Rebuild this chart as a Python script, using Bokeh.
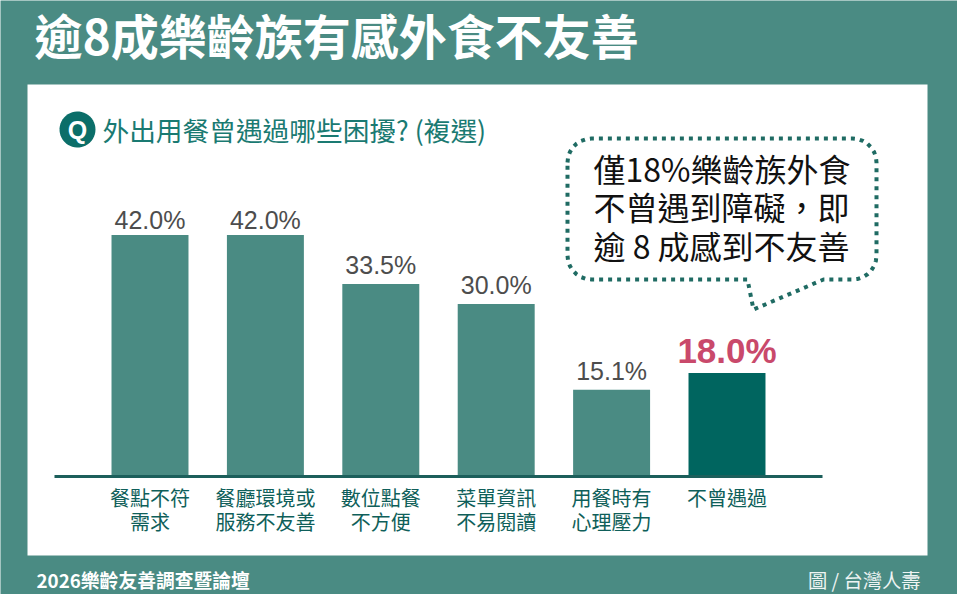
from bokeh.core.properties import value
from bokeh.embed import file_html
from bokeh.models import BoxAnnotation, ColumnDataSource, FixedTicker, Label, PolyAnnotation, Range1d
from bokeh.plotting import figure
from bokeh.resources import INLINE
import numpy as np

categories = ["餐點不符\n需求", "餐廳環境或\n服務不友善", "數位點餐\n不方便", "菜單資訊\n不易閱讀", "用餐時有\n心理壓力", "不曾遇過"]
shares = [42.0, 42.0, 33.5, 30.0, 15.1, 18.0]
highlight = ["不曾遇過"]

title = "逾8成樂齡族有感外食不友善"
question = "外出用餐曾遇過哪些困擾? (複選)"
callout = ["僅18%樂齡族外食", "不曾遇到障礙，即", "逾 8 成感到不友善"]
footer_left = "2026樂齡友善調查暨論壇"
footer_right = "圖 / 台灣人壽"

TEAL = "#4a8b83"
DARK = "#00655f"
CJK = "Noto Sans CJK TC"
W, H = 957, 594

# one bar step is 115.4px, one percent is 5.75px, baseline at y=476, first bar at x=149.5
x_range = Range1d(-149.5 / 115.4, (W - 149.5) / 115.4)
y_range = Range1d(-(H - 476) / 5.75, 476 / 5.75)

p = figure(x_range=x_range, y_range=y_range, width=W, height=H,
           output_backend="svg", toolbar_location=None, y_axis_location=None,
           min_border=0, border_fill_color=TEAL, background_fill_color=TEAL, outline_line_color=None)
p.grid.visible = False


def sy(y):
    return H - y


# white panel behind the chart
p.add_layout(BoxAnnotation(left=27, right=927, top=sy(84), bottom=sy(555),
                           left_units="screen", right_units="screen", top_units="screen", bottom_units="screen",
                           fill_color="white", fill_alpha=1, line_color=None, level="underlay"))

positions = list(range(len(categories)))
normal = [i for i in positions if categories[i] not in highlight]
special = [i for i in positions if categories[i] in highlight]
src = ColumnDataSource(data={"x": normal, "v": [shares[i] for i in normal],
                             "t": [f"{shares[i]:.1f}%" for i in normal],
                             "off": [-1, -1, -5, -5, -5]})
src2 = ColumnDataSource(data={"x": special, "v": [shares[i] for i in special],
                              "t": [f"{shares[i]:.1f}%" for i in special]})

p.vbar(x="x", top="v", width=0.667, source=src, fill_color=TEAL, line_color=None)
p.vbar(x="x", top="v", width=0.667, source=src2, fill_color=DARK, line_color=None)
p.text(x="x", y="v", text="t", source=src, text_align="center", text_baseline="bottom", y_offset="off",
       text_font=value("Liberation Sans"), text_font_size="25px", text_color="#4d4d4d")
p.text(x="x", y="v", text="t", source=src2, text_align="center", text_baseline="bottom", y_offset=-3,
       text_font=value("Liberation Sans"), text_font_size="35px", text_font_style="bold", text_color="#c9496b")

ax = p.xaxis[0]
ax.fixed_location = 0
ax.bounds = (-0.8275, 5.8275)
ax.ticker = FixedTicker(ticks=positions)
ax.major_label_overrides = dict(zip(positions, categories))
ax.axis_line_color = "#1c5f5b"
ax.axis_line_width = 3
ax.major_tick_line_color = None
ax.minor_tick_line_color = None
ax.major_label_standoff = 0
ax.major_label_text_font = CJK
ax.major_label_text_font_size = "20px"
ax.major_label_text_color = "#0f5f5a"
ax.major_label_text_line_height = 0.85


def arc(cx, cy, r, start, sweep, n=8):
    a = np.linspace(start, start + sweep, n)
    return list(cx + r * np.cos(a)), list(cy + r * np.sin(a))


def add_poly(xs, ys, **kw):
    p.add_layout(PolyAnnotation(xs=xs, ys=[sy(v) for v in ys], xs_units="screen", ys_units="screen",
                                fill_alpha=1, **kw))


# speech bubble: rounded box with a tail
bx0, bx1, by0, by1, r = 567, 876, 138, 279, 24
bubble_x, bubble_y = [], []
for cx, cy, start in [(bx0 + r, by0 + r, np.pi), (bx1 - r, by0 + r, 1.5 * np.pi),
                      (bx1 - r, by1 - r, 0), (bx0 + r, by1 - r, 0.5 * np.pi)]:
    if start == 0.5 * np.pi:
        bubble_x += [823, 753, 747]
        bubble_y += [by1, 309, by1]
    ax_, ay_ = arc(cx, cy, r, start, np.pi / 2)
    bubble_x += ax_
    bubble_y += ay_
add_poly(bubble_x, bubble_y, fill_color="white", line_color="#1f6b63", line_alpha=1, line_width=4, line_dash="4 5")

# Q badge
qx, qy = arc(77, 129, 18, 0, 2 * np.pi, 48)
add_poly(qx, qy, fill_color="#0b6e69", line_color=None)


def add_label(text, x, y, size, color, align="left", bold=False, font=CJK):
    p.add_layout(Label(x=x, y=sy(y), x_units="screen", y_units="screen", text=text,
                       text_font=font, text_font_size=size, text_color=color, text_align=align,
                       text_baseline="middle", text_font_style="bold" if bold else "normal"))


add_label(title, 34, 33, "48px", "white", bold=True)
add_label(question, 102, 128.5, "26.7px", "#1a7a72")
p.add_layout(Label(x=77, y=sy(129), x_units="screen", y_units="screen", text="Q",
                   text_font="Liberation Sans", text_font_size="25px", text_font_style="bold",
                   text_color="white", text_align="center", text_baseline="middle"))
for line, y in zip(callout, [167.5, 205.5, 244]):
    add_label(line, 593, y, "32px", "#111111")
add_label(footer_left, 36, 579, "18.8px", "white", bold=True)
add_label(footer_right, 920, 579, "19.3px", "#eef4f3", align="right")

open("out.html", "w").write(file_html(p, INLINE))
